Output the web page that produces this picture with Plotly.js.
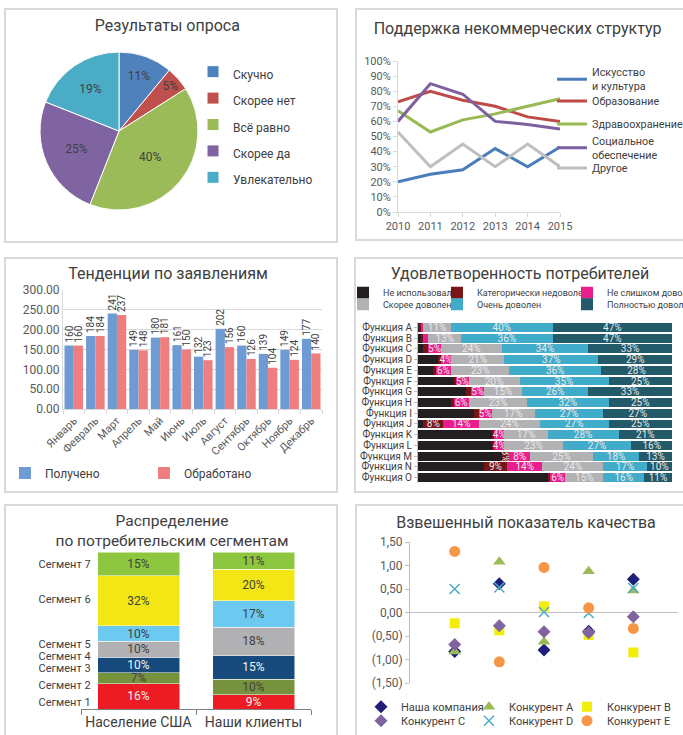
<!DOCTYPE html>
<html><head><meta charset="utf-8">
<script src="https://cdn.plot.ly/plotly-3.0.1.min.js"></script>
<style>
html,body{margin:0;padding:0;background:#fff;overflow:hidden;width:683px;height:735px;}
.panel{position:absolute;box-sizing:border-box;border:2px solid #d9d9d9;overflow:hidden;background:#fff;}
</style></head><body>
<div id="p1" class="panel" style="left:4px;top:8px;width:334px;height:235px"></div>
<div id="p2" class="panel" style="left:355px;top:8px;width:340px;height:233px"></div>
<div id="p3" class="panel" style="left:4px;top:257px;width:334px;height:236px"></div>
<div id="p4" class="panel" style="left:354px;top:257px;width:340px;height:236px"></div>
<div id="p5" class="panel" style="left:4px;top:504px;width:334px;height:236px"></div>
<div id="p6" class="panel" style="left:355px;top:504px;width:340px;height:236px"></div>
<script>
// ---------- DATA ----------
// Chart 1
const surveyLabels = ['Скучно', 'Скорее нет', 'Всё равно', 'Скорее да', 'Увлекательно'];
const surveyValues = [11, 5, 40, 25, 19];
// Chart 2
const years = [2010, 2011, 2012, 2013, 2014, 2015];
const lineNames = ['Искусство<br>и культура', 'Образование', 'Здравоохранение', 'Социальное<br>обеспечение', 'Другое'];
const artsCulture = [20, 25, 28, 42, 30, 43];
const education = [73, 80, 74, 70, 63, 60];
const healthcare = [67, 53, 61, 65, 70, 75];
const socialWelfare = [60, 85, 78, 60, 58, 55];
const otherSupport = [53, 30, 45, 30, 45, 30];
// Chart 3
const months = ['Январь','Февраль','Март','Апрель','Май','Июнь','Июль','Август','Сентябрь','Октябрь','Ноябрь','Декабрь'];
const received = [160, 184, 241, 149, 180, 161, 132, 202, 160, 139, 149, 177];
const processed = [160, 184, 237, 148, 181, 150, 123, 156, 126, 104, 124, 140];
// Chart 4
const features = ['Функция A','Функция B','Функция C','Функция D','Функция E','Функция F','Функция G','Функция H','Функция I','Функция J','Функция K','Функция L','Функция M','Функция N','Функция O'];
const satNames = ['Не использовал', 'Категорически недоволен', 'Не слишком доволен', 'Скорее доволен', 'Очень доволен', 'Полностью доволен'];
const notUsed = [0.5, 1, 2, 8, 6, 14, 19, 13, 22, 2, 29, 29, 33, 26, 51];
const veryDissatisfied = [0.5, 1, 2, 1, 1, 1, 2, 1, 2, 8, 1, 1, 3, 9, 1];
const notVerySatisfied = [1, 2, 5, 4, 6, 5, 5, 6, 5, 14, 4, 4, 8, 14, 6];
const somewhatSatisfied = [11, 13, 24, 21, 23, 20, 15, 23, 17, 24, 17, 23, 25, 24, 15];
const verySatisfied = [40, 36, 34, 37, 36, 35, 26, 32, 27, 27, 28, 27, 18, 17, 16];
const completelySatisfied = [47, 47, 33, 29, 28, 25, 33, 25, 27, 25, 21, 16, 13, 10, 11];
// Chart 5
const segments = ['Сегмент 1','Сегмент 2','Сегмент 3','Сегмент 4','Сегмент 5','Сегмент 6','Сегмент 7'];
const groups = ['Население США', 'Наши клиенты'];
const usPopulation = [16, 7, 10, 10, 10, 32, 15];
const ourClients = [9, 10, 15, 18, 17, 20, 11];
// Chart 6
const qualityX = [1, 2, 3, 4, 5];
const competitorNames = ['Наша компания', 'Конкурент A', 'Конкурент B', 'Конкурент C', 'Конкурент D', 'Конкурент E'];
const ourCompany = [-0.83, 0.61, -0.80, -0.40, 0.71];
const competitorA = [-0.83, 1.08, -0.62, 0.88, 0.47];
const competitorB = [-0.23, -0.38, 0.13, -0.48, -0.85];
const competitorC = [-0.68, -0.28, -0.41, -0.43, -0.09];
const competitorD = [0.50, 0.53, 0.01, -0.01, 0.52];
const competitorE = [1.30, -1.05, 0.96, 0.10, -0.34];
const qualityTicks = [1.5, 1, 0.5, 0, -0.5, -1, -1.5];

// ---------- STYLE ----------
const FONT = 'Roboto, "Noto Sans", sans-serif';
const TITLE_C = '#404040', TICK_C = '#595959', LINE_C = '#d9d9d9';
const cfg = {staticPlot: true, displayModeBar: false};
function ttl(text, x, y, size) {
  return {text: text, font: {family: FONT, size: size || 16, color: TITLE_C}, x: x, xref: 'container', xanchor: 'center', y: y, yref: 'container', yanchor: 'middle'};
}
// legend placed by its top-left corner given in panel pixels, converted to paper coordinates
function lgAt(W, H, m, xIn, topIn, size) {
  const pw = W - m.l - m.r, ph = H - m.t - m.b;
  return {x: (xIn - m.l) / pw, y: (H - m.b - topIn) / ph, xref: 'paper', yref: 'paper', xanchor: 'left', yanchor: 'top',
    bgcolor: 'rgba(0,0,0,0)', font: {family: FONT, size: size, color: '#404040'}, orientation: 'v', maxheight: 600, visible: true};
}
function safe(fn) { try { fn(); } catch (e) { console.error(e); } }

// ---------- CHART 1 : pie ----------
safe(function () {
  const W = 330, H = 231;
  const m = {l: 0, r: 0, t: 0, b: 0, autoexpand: false};
  const pieColors = ['#4F81BD', '#C0504D', '#9BBB59', '#8064A2', '#4BACC6'];
  Plotly.newPlot('p1', [{
    type: 'pie', labels: surveyLabels.map(s => '<span style="font-size:12px">' + s + '</span>'), values: surveyValues,
    sort: false, direction: 'clockwise', rotation: 0,
    marker: {colors: pieColors, line: {color: '#ffffff', width: 1}},
    texttemplate: '%{percent:.0%}', textposition: 'inside', insidetextorientation: 'horizontal',
    textfont: {family: FONT, size: 12, color: '#404040'},
    domain: {x: [0.103, 0.582], y: [0.134, 0.818]}, hoverinfo: 'none'
  }], {
    width: W, height: H, margin: m, paper_bgcolor: '#fff', showlegend: true,
    font: {family: FONT},
    title: ttl('Результаты опроса', 0.489, 0.933),
    uniformtext: {mode: 'show', minsize: 12},
    legend: lgAt(W, H, m, 187, 43.5, 18)
  }, cfg);
});

// ---------- CHART 2 : lines ----------
safe(function () {
  const W = 336, H = 229;
  const m = {l: 41, r: 133, t: 51, b: 27, autoexpand: false};
  const series = [artsCulture, education, healthcare, socialWelfare, otherSupport];
  const colors = ['#4A7EBB', '#BE4B48', '#98B954', '#7D60A0', '#BFBFBF'];
  const legendTops = [48.7, 76.5, 99.5, 117.2, 143.5];
  const traces = series.map((s, i) => ({
    type: 'scatter', mode: 'lines', x: years, y: s, name: lineNames[i],
    line: {color: colors[i], width: 3}, cliponaxis: false,
    legend: i === 0 ? 'legend' : 'legend' + (i + 1)
  }));
  const layout = {
    width: W, height: H, margin: m, paper_bgcolor: '#fff', plot_bgcolor: '#fff', showlegend: true,
    font: {family: FONT},
    title: ttl('Поддержка некоммерческих структур', 0.478, 0.921),
    xaxis: {range: [2010, 2015], tickmode: 'linear', dtick: 1, showgrid: false, zeroline: false, showline: true, linecolor: LINE_C, ticks: 'outside', ticklen: 4, tickcolor: LINE_C, tickfont: {family: FONT, size: 11, color: TICK_C}},
    yaxis: {range: [0, 100], tickmode: 'linear', dtick: 10, ticksuffix: '%', showgrid: false, zeroline: false, showline: true, linecolor: LINE_C, ticks: 'outside', ticklen: 4, tickcolor: LINE_C, tickfont: {family: FONT, size: 11, color: TICK_C}}
  };
  legendTops.forEach((t, i) => { layout[i === 0 ? 'legend' : 'legend' + (i + 1)] = lgAt(W, H, m, 195, t, 10.8); });
  Plotly.newPlot('p2', traces, layout, cfg);
});

// ---------- CHART 3 : grouped bars ----------
safe(function () {
  const W = 330, H = 232;
  const m = {l: 57, r: 14, t: 31, b: 82, autoexpand: false};
  const mk = (y, name, color, lgName) => ({
    type: 'bar', x: months, y: y, name: name, marker: {color: color},
    text: y.map(String), textposition: 'outside', textangle: -90, constraintext: 'none', cliponaxis: false,
    textfont: {family: FONT, size: 10, color: '#404040'}, legend: lgName
  });
  const layout = {
    width: W, height: H, margin: m, paper_bgcolor: '#fff', plot_bgcolor: '#fff', showlegend: true,
    font: {family: FONT}, barmode: 'group', bargap: 0.14, bargroupgap: 0,
    title: ttl('Тенденции по заявлениям', 0.491, 0.94),
    xaxis: {showgrid: false, showline: true, linecolor: LINE_C, ticks: 'outside', tickson: 'boundaries', ticklen: 4, tickcolor: LINE_C, tickangle: -45, tickfont: {family: FONT, size: 11, color: TICK_C}},
    yaxis: {range: [0, 300], tickmode: 'linear', dtick: 50, tickformat: '.2f', showgrid: true, gridcolor: LINE_C, zeroline: false, showline: true, linecolor: LINE_C, tickfont: {family: FONT, size: 12, color: TICK_C}},
    legend: lgAt(W, H, m, -1, 199.5, 12),
    legend2: lgAt(W, H, m, 138, 199.5, 12)
  };
  Plotly.newPlot('p3', [mk(received, 'Получено', '#6F9BD4', 'legend'), mk(processed, 'Обработано', '#EF7F7F', 'legend2')], layout, cfg);
});

// ---------- CHART 4 : 100% stacked horizontal bars ----------
safe(function () {
  const W = 336, H = 232;
  const m = {l: 62, r: 20, t: 63, b: 8, autoexpand: false};
  const series = [notUsed, veryDissatisfied, notVerySatisfied, somewhatSatisfied, verySatisfied, completelySatisfied];
  const colors = ['#231F20', '#7A1517', '#E91E8C', '#B2B2B4', '#41ACC9', '#235A6A'];
  const lgPos = [[-13, 19.2], [81, 19.2], [211, 19.2], [-13, 30.8], [81, 30.8], [211, 30.8]];
  const traces = series.map((s, i) => ({
    type: 'bar', orientation: 'h', y: features, x: s, name: satNames[i],
    marker: {color: colors[i]},
    text: s.map(v => (i > 0 && v >= 3) ? Math.round(v) + '%' : ''),
    textposition: 'inside', insidetextanchor: 'middle', constraintext: 'none',
    textfont: {family: FONT, size: 10, color: '#E8E8E8'},
    legend: i === 0 ? 'legend' : 'legend' + (i + 1)
  }));
  const layout = {
    width: W, height: H, margin: m, paper_bgcolor: '#fff', plot_bgcolor: '#fff', showlegend: true,
    font: {family: FONT}, barmode: 'stack', bargap: 0.17,
    title: ttl('Удовлетворенность потребителей', 0.488, 0.94),
    xaxis: {range: [0, 100], visible: false},
    yaxis: {autorange: 'reversed', type: 'category', tickmode: 'array', tickvals: features, ticktext: features, showgrid: false, showline: true, linecolor: '#BFBFBF', ticks: 'outside', ticklen: 3, tickcolor: '#BFBFBF', tickfont: {family: FONT, size: 10, color: '#404040'}}
  };
  lgPos.forEach((p, i) => { layout[i === 0 ? 'legend' : 'legend' + (i + 1)] = lgAt(W, H, m, p[0], p[1], 9); });
  Plotly.newPlot('p4', traces, layout, cfg);
});

// ---------- CHART 5 : 100% stacked columns ----------
safe(function () {
  const W = 330, H = 232;
  const m = {l: 75, r: 25, t: 46, b: 29, autoexpand: false};
  const colors = ['#ED1C24', '#77923C', '#174A7C', '#B1B1B3', '#6CC9F0', '#F2E614', '#8DC63F'];
  const txtColors = ['#F2F2F2', '#404040', '#F2F2F2', '#404040', '#404040', '#404040', '#404040'];
  const labelPos = [4.5, 15.3, 26.1, 33.8, 41.4, 70.1, 92.4];
  const traces = segments.map((s, i) => {
    const vals = [usPopulation[i], ourClients[i]];
    return {
      type: 'bar', x: groups, y: vals, name: s, showlegend: false,
      marker: {color: colors[i], line: {color: '#ffffff', width: 0.5}},
      text: vals.map(v => v + '%'), textposition: 'inside', insidetextanchor: 'middle', constraintext: 'none',
      textfont: {family: FONT, size: 12, color: txtColors[i]}
    };
  });
  Plotly.newPlot('p5', traces, {
    width: W, height: H, margin: m, paper_bgcolor: '#fff', plot_bgcolor: '#fff',
    font: {family: FONT}, barmode: 'stack', bargap: 0.287,
    title: ttl('Распределение<br>по потребительским сегментам', 0.503, 0.914, 15.5),
    xaxis: {showgrid: false, showline: true, linecolor: '#808080', ticks: 'outside', tickson: 'boundaries', ticklen: 5, tickcolor: '#808080', tickangle: 0, tickfont: {family: FONT, size: 14, color: '#404040'}},
    yaxis: {range: [0, 100], anchor: 'free', position: 0.042, tickmode: 'array', tickvals: labelPos, ticktext: segments, showgrid: false, zeroline: false, showline: false, ticks: '', tickfont: {family: FONT, size: 11, color: '#404040'}}
  }, cfg);
});

// ---------- CHART 6 : scatter ----------
safe(function () {
  const W = 336, H = 232;
  const m = {l: 53, r: 15, t: 36, b: 55, autoexpand: false};
  const series = [ourCompany, competitorA, competitorB, competitorC, competitorD, competitorE];
  const markers = [
    {symbol: 'diamond', size: 10, color: '#1F1F78'},
    {symbol: 'triangle-up', size: 11, color: '#9BBB59'},
    {symbol: 'square', size: 10, color: '#F2EE0A'},
    {symbol: 'diamond', size: 10, color: '#8064A2'},
    {symbol: 'x-thin-open', size: 10, color: '#4BACC6', line: {color: '#4BACC6', width: 1.5}},
    {symbol: 'circle', size: 11, color: '#F79646'}
  ];
  const lgPos = [[4, 186.2], [112, 186.2], [210, 186.2], [4, 200.2], [112, 200.2], [210, 200.2]];
  const traces = series.map((s, i) => ({
    type: 'scatter', mode: 'markers', x: qualityX, y: s, name: competitorNames[i], marker: markers[i], cliponaxis: false,
    legend: i === 0 ? 'legend' : 'legend' + (i + 1)
  }));
  const fmt = v => { const t = Math.abs(v).toFixed(2).replace('.', ','); return v < 0 ? '(' + t + ')' : t; };
  const layout = {
    width: W, height: H, margin: m, paper_bgcolor: '#fff', plot_bgcolor: '#fff', showlegend: true,
    font: {family: FONT},
    title: ttl('Взвешенный показатель качества', 0.503, 0.928),
    xaxis: {range: [0, 6], showgrid: false, zeroline: false, showline: false, showticklabels: false, ticks: ''},
    yaxis: {range: [-1.5, 1.5], tickmode: 'array', tickvals: qualityTicks, ticktext: qualityTicks.map(fmt), showgrid: false, zeroline: true, zerolinecolor: '#BFBFBF', zerolinewidth: 1.5, showline: true, linecolor: '#BFBFBF', ticks: 'outside', ticklen: 4, tickcolor: '#BFBFBF', tickfont: {family: FONT, size: 12, color: TICK_C}}
  };
  lgPos.forEach((p, i) => { layout[i === 0 ? 'legend' : 'legend' + (i + 1)] = lgAt(W, H, m, p[0], p[1], 11); });
  Plotly.newPlot('p6', traces, layout, cfg);
});
</script>
</body></html>
